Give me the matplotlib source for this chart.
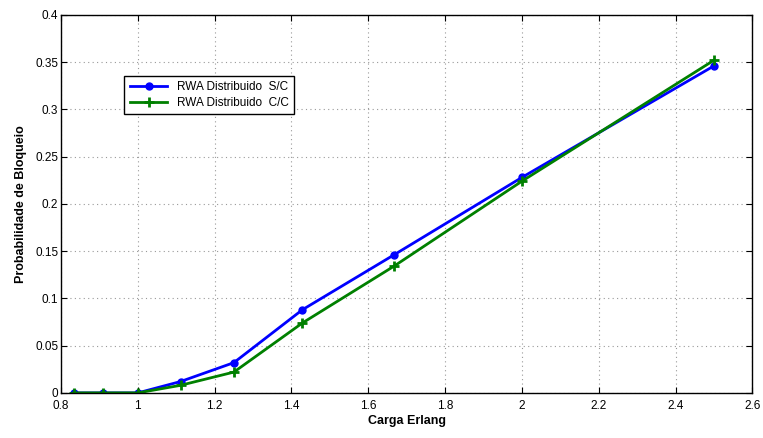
# Probabilidade de bloqueio vs carga (RWA distribuido)

import matplotlib.pyplot as plt

plt.rcParams['font.family'] = ['Liberation Sans', 'DejaVu Sans']

# dados
carga = [5/6, 10/11, 1.0, 10/9, 1.25, 10/7, 5/3, 2.0, 2.5]
prob_sc = [0, 0, 0, 0.012, 0.032, 0.088, 0.146, 0.228, 0.346]
prob_cc = [0, 0, 0, 0.008, 0.022, 0.074, 0.134, 0.224, 0.352]
xticks = [0.8, 1, 1.2, 1.4, 1.6, 1.8, 2, 2.2, 2.4, 2.6]
yticks = [0, 0.05, 0.1, 0.15, 0.2, 0.25, 0.3, 0.35, 0.4]

fig = plt.figure(figsize=(7.63, 4.38), dpi=100)
ax = fig.add_axes([0.080, 0.103, 0.906, 0.863])

ax.plot(carga, prob_sc, color=(0, 0, 1), lw=2, marker='o', ms=5,
        label='RWA Distribuido  S/C')
ax.plot(carga, prob_cc, color=(0, 0.5, 0), lw=2, marker='+', ms=7, mew=2,
        label='RWA Distribuido  C/C')

ax.set_xlim(0.8, 2.6)
ax.set_ylim(0, 0.4)
ax.set_xticks(xticks)
ax.set_xticklabels(['0.8', '1', '1.2', '1.4', '1.6', '1.8', '2', '2.2', '2.4', '2.6'])
ax.set_yticks(yticks)
ax.set_yticklabels(['0', '0.05', '0.1', '0.15', '0.2', '0.25', '0.3', '0.35', '0.4'])
ax.tick_params(labelsize=8.5, direction='in', length=4, top=True, right=True)
ax.tick_params(axis='x', pad=5)
ax.tick_params(axis='y', pad=2)
ax.grid(True, ls=(0, (1, 3)), color='#999999', lw=0.8)
for s in ax.spines.values():
    s.set_linewidth(1)

ax.set_xlabel('Carga Erlang', fontsize=9, fontweight='bold', labelpad=2)
ax.set_ylabel('Probabilidade de Bloqueio', fontsize=9, fontweight='bold', labelpad=6)

leg = ax.legend(loc='upper left', bbox_to_anchor=(0.083, 0.855), fontsize=8.5,
                fancybox=False, framealpha=1, edgecolor='black',
                handlelength=3.2, borderpad=0.45, labelspacing=0.35)
leg.get_frame().set_linewidth(1)

plt.savefig('out.png', dpi=100)
